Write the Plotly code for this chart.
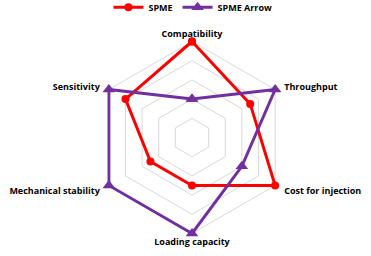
import plotly.graph_objects as go

categories = ["Compatibility", "Throughput", "Cost for injection",
              "Loading capacity", "Mechanical stability", "Sensitivity"]
tick_labels = ["Compatibility", "\u00a0\u00a0\u00a0Throughput", "\u00a0\u00a0\u00a0Cost for injection",
               "Loading capacity", "Mechanical stability\u00a0\u00a0\u00a0", "Sensitivity\u00a0\u00a0\u00a0"]
spme = [5, 3.5, 5, 2.5, 2.5, 4]
spme_arrow = [2, 5, 3, 5, 5, 5]
radial_max = 5.1

def closed(v):
    return v + v[:1]

fig = go.Figure()
fig.add_trace(go.Scatterpolar(
    r=closed(spme), theta=closed(categories), name="SPME",
    mode="lines+markers", cliponaxis=False,
    line=dict(color="#FF0000", width=3),
    marker=dict(symbol="circle", size=8, color="#FF0000"),
))
fig.add_trace(go.Scatterpolar(
    r=closed(spme_arrow), theta=closed(categories), name="SPME Arrow",
    mode="lines+markers", cliponaxis=False,
    line=dict(color="#7030A0", width=3),
    marker=dict(symbol="triangle-up", size=11, color="#7030A0"),
))

R = 96 * radial_max / 5
cx, cy = 192, 256 - 137.5

fig.update_layout(
    width=371, height=256,
    margin=dict(l=0, r=0, t=0, b=0, autoexpand=False),
    paper_bgcolor="white", plot_bgcolor="white",
    font=dict(family="Open Sans", size=9, color="#000000"),
    showlegend=True,
    legend=dict(orientation="h", x=0.52, xanchor="center", y=1.028, yanchor="top",
                font=dict(size=9, weight="bold"),
                bgcolor="rgba(0,0,0,0)"),
    polar=dict(
        domain=dict(x=[(cx - R) / 371, (cx + R) / 371],
                    y=[(cy - R) / 256, (cy + R) / 256]),
        gridshape="linear",
        bgcolor="white",
        radialaxis=dict(range=[0, radial_max], tickvals=[1, 2, 3, 4, 5],
                        showticklabels=False, ticks="", showline=False,
                        gridcolor="#D9D9D9", gridwidth=1, layer="below traces"),
        angularaxis=dict(rotation=90, direction="clockwise",
                         tickvals=categories, ticktext=tick_labels,
                         showgrid=False, showline=False, ticks="",
                         layer="below traces",
                         tickfont=dict(size=9, weight="bold", color="#000000")),
    ),
)

fig.write_html("out.html", config={"displayModeBar": False},
               post_script="document.body.style.margin='0';document.body.style.overflow='hidden';")
